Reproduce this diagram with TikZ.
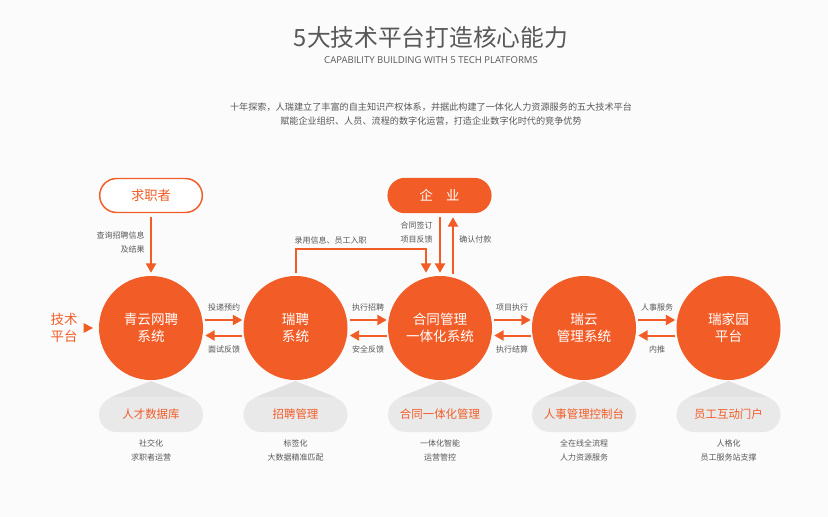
\documentclass[tikz,border=0pt]{standalone}
\usepackage{fontspec}
\setmainfont{Noto Sans CJK SC}
\newfontfamily\latinfont{Open Sans}
\usetikzlibrary{arrows.meta,shapes.misc}
\definecolor{ruiorange}{RGB}{242,92,39}
\definecolor{ruitext}{RGB}{88,88,88}
\definecolor{ruipage}{RGB}{251,251,251}
\definecolor{ruipill}{RGB}{233,233,233}
\definecolor{ruicone}{RGB}{226,226,226}
\tikzset{
  sysnode/.style={circle,fill=ruiorange,text=white,minimum size=78pt,inner sep=0pt,align=center,font=\fontsize{10.2pt}{13pt}\selectfont},
  rolenode/.style={rounded rectangle,minimum width=77pt,minimum height=25.5pt,inner sep=0pt,font=\fontsize{10pt}{12pt}\selectfont},
  basenode/.style={rounded rectangle,fill=ruipill,text=ruiorange,minimum width=78pt,minimum height=26.25pt,inner sep=0pt,font=\fontsize{8.6pt}{10pt}\selectfont},
  smalltext/.style={text=ruitext,inner sep=0pt,align=center,font=\fontsize{6pt}{10.5pt}\selectfont},
  flow/.style={color=ruiorange,line width=1.5pt,-{Triangle[width=7.5pt,length=7pt]}},
}
\begin{document}
\begin{tikzpicture}[x=0.75pt,y=0.75pt,yscale=-1,xscale=1]
\fill [ruipage] (0,0) rectangle (828,517);
\useasboundingbox (0,0) rectangle (828,517);

% Title
\node (title) at (431,37) [text=ruitext,inner sep=0pt,font=\fontsize{17.8pt}{20pt}\selectfont] {5大技术平台打造核心能力};
\node (subtitle) at (431,60) [text=ruitext,inner sep=0pt,font=\latinfont\fontsize{7.15pt}{8pt}\selectfont] {CAPABILITY BUILDING WITH 5 TECH PLATFORMS};
\node (intro) at (431,114) [text=ruitext,inner sep=0pt,align=center,font=\fontsize{6.85pt}{10.5pt}\selectfont] {十年探索，人瑞建立了丰富的自主知识产权体系，并据此构建了一体化人力资源服务的五大技术平台\\赋能企业组织、人员、流程的数字化运营，打造企业数字化时代的竞争优势};

% Systems
\node (qingyun) at (151,328) [sysnode] {青云网聘\\系统};
\node (ruipin) at (295.5,328) [sysnode] {瑞聘\\系统};
\node (hetong) at (440,328) [sysnode] {合同管理\\一体化系统};
\node (ruiyun) at (584,328) [sysnode] {瑞云\\管理系统};
\node (ruijia) at (728.5,328) [sysnode] {瑞家园\\平台};

% Top roles
\node (seeker) at (151,195.5) [rolenode,draw=ruiorange,line width=1.1pt,fill=white,text=ruiorange] {求职者};
\node (company) at (439.5,195.5) [rolenode,draw=ruiorange,line width=1.1pt,fill=ruiorange,text=white] {企\hspace{1em}业};

% Left label
\node (platform) at (64,328) [text=ruiorange,inner sep=0pt,align=center,font=\fontsize{10.1pt}{12.3pt}\selectfont] {技术\\平台};
\coordinate (tipa) at (83.5,323);
\coordinate (tipb) at (83.5,333);
\coordinate (tipc) at (93,328);
\fill [ruiorange] (tipa) -- (tipb) -- (tipc) -- cycle;

% Cones and bases
\fill [ruicone] (151,381) -- (110,397.5) -- (192,397.5) -- cycle;
\fill [ruicone] (295.5,381) -- (254.5,397.5) -- (336.5,397.5) -- cycle;
\fill [ruicone] (440,381) -- (399,397.5) -- (481,397.5) -- cycle;
\fill [ruicone] (584,381) -- (543,397.5) -- (625,397.5) -- cycle;
\fill [ruicone] (728.5,381) -- (687.5,397.5) -- (769.5,397.5) -- cycle;
\node (basea) at (151,414.5) [basenode] {人才数据库};
\node (baseb) at (295.5,414.5) [basenode] {招聘管理};
\node (basec) at (440,414.5) [basenode] {合同一体化管理};
\node (based) at (584,414.5) [basenode] {人事管理控制台};
\node (basee) at (728.5,414.5) [basenode] {员工互动门户};

% Base captions
\node (capa) at (151,450) [smalltext] {社交化\\求职者运营};
\node (capb) at (295.5,450) [smalltext] {标签化\\大数据精准匹配};
\node (capc) at (440,450) [smalltext] {一体化智能\\运营管控};
\node (capd) at (584,450) [smalltext] {全在线全流程\\人力资源服务};
\node (cape) at (728.5,450) [smalltext] {人格化\\员工服务站支撑};

% Vertical connectors
\draw [flow] ([shift={(0,4)}]seeker.south) -- ([shift={(0,-3)}]qingyun.north);
\draw [flow] ([shift={(0.5,4)}]company.south) -- ([shift={(0,-3)}]hetong.north);
\draw [flow] ([shift={(13,-2)}]hetong.north) -- ([shift={(13.5,4)}]company.south);
\draw [flow] ([shift={(0,-3)}]ruipin.north) -- (295.5,249) -- (426,249) -- ([shift={(-14,-3)}]hetong.north);

% Horizontal connectors
\draw [flow] ([shift={(2,-8)}]qingyun.east) -- ([shift={(-1,-8)}]ruipin.west);
\draw [flow] ([shift={(-1,7.5)}]ruipin.west) -- ([shift={(2,7.5)}]qingyun.east);
\draw [flow] ([shift={(2,-8)}]ruipin.east) -- ([shift={(-1,-8)}]hetong.west);
\draw [flow] ([shift={(-1,7.5)}]hetong.west) -- ([shift={(2,7.5)}]ruipin.east);
\draw [flow] ([shift={(2,-8)}]hetong.east) -- ([shift={(-1,-8)}]ruiyun.west);
\draw [flow] ([shift={(-1,7.5)}]ruiyun.west) -- ([shift={(2,7.5)}]hetong.east);
\draw [flow] ([shift={(2,-8)}]ruiyun.east) -- ([shift={(-1,-8)}]ruijia.west);
\draw [flow] ([shift={(-1,7.5)}]ruijia.west) -- ([shift={(2,7.5)}]ruiyun.east);

% Connector labels
\node (lblquery) at (145,242) [smalltext,anchor=east,align=right] {查询招聘信息\\及结果};
\node (lblhire) at (330.5,240) [smalltext] {录用信息、员工入职};
\node (lblsign) at (433,232) [smalltext,anchor=east,align=right] {合同签订\\项目反馈};
\node (lblpay) at (459,239) [smalltext,anchor=west] {确认付款};
\node (lbla) at (224,307) [smalltext] {投递预约};
\node (lblb) at (224,349) [smalltext] {面试反馈};
\node (lblc) at (368,307) [smalltext] {执行招聘};
\node (lbld) at (368,349) [smalltext] {安全反馈};
\node (lble) at (512,307) [smalltext] {项目执行};
\node (lblf) at (512,349) [smalltext] {执行结算};
\node (lblg) at (657,307) [smalltext] {人事服务};
\node (lblh) at (657,349) [smalltext] {内推};

\end{tikzpicture}
\end{document}
